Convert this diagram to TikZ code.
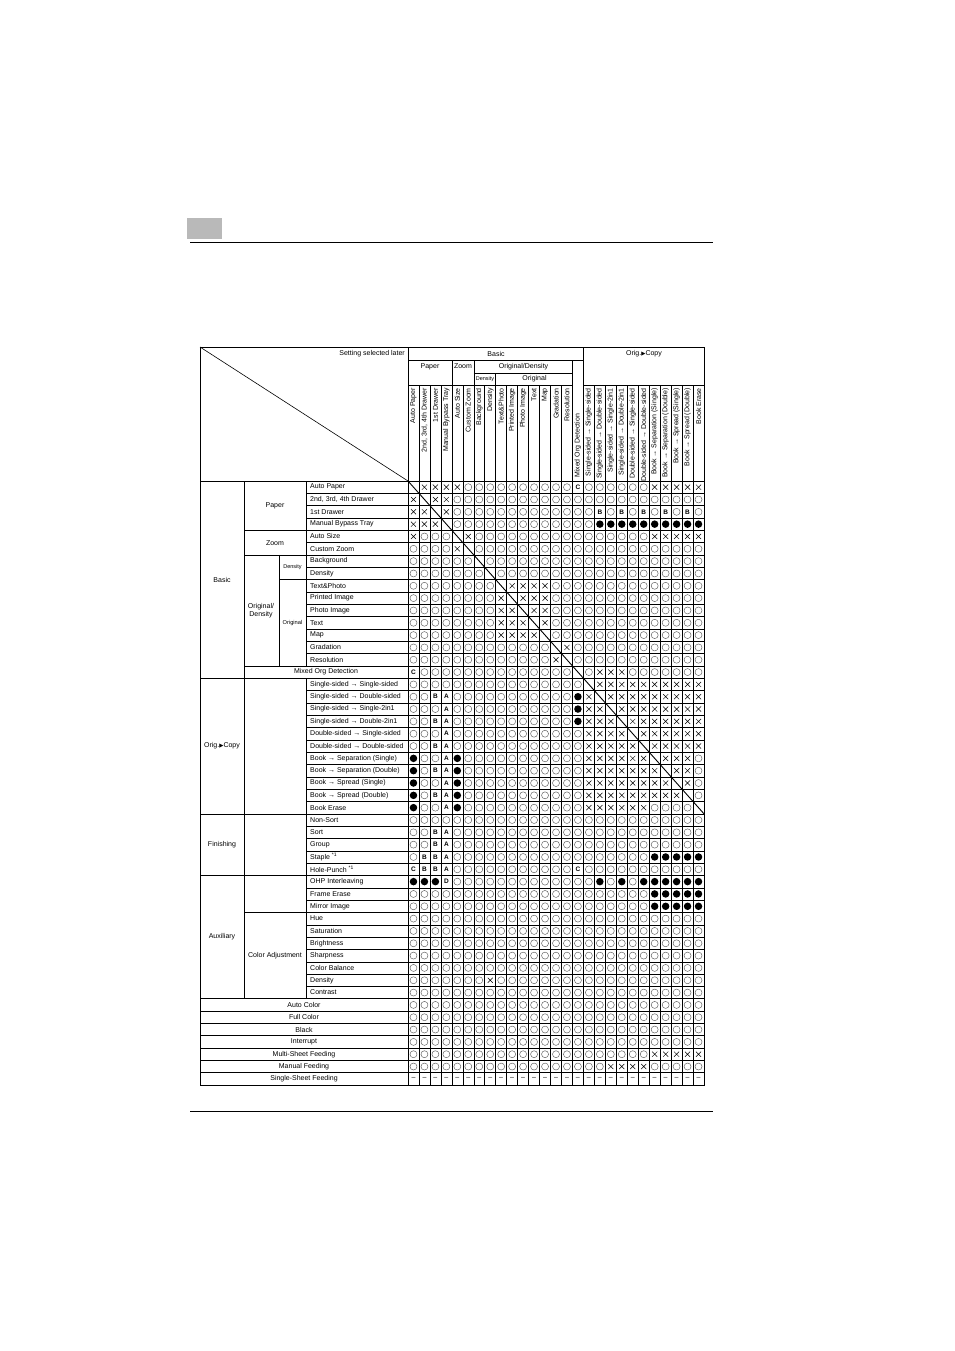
\documentclass[tikz,border=0pt]{standalone}
\usepackage{fontspec}
\setmainfont{Liberation Sans}
\newfontfamily\symfont{DejaVu Sans}
\usetikzlibrary{shapes.misc}

\definecolor{ringcolor}{HTML}{5a5a5a}
\definecolor{tabcolor}{HTML}{b9b9b9}
\tikzstyle{label} = [font=\fontsize{7}{8}\selectfont, inner sep=0pt]
\tikzstyle{item} = [label, anchor=west]
\tikzstyle{vhead} = [label, rotate=90, anchor=east]
\tikzstyle{ring} = [circle, draw=ringcolor, line width=0.45pt, minimum size=7pt, inner sep=0pt]
\tikzstyle{dot} = [circle, fill=black, minimum size=7.5pt, inner sep=0pt]
\tikzstyle{cross} = [cross out, draw, line width=0.5pt, minimum size=4.6pt, inner sep=0pt]
\tikzstyle{letter} = [font=\fontsize{6.5}{7}\selectfont\bfseries, inner sep=0pt]
\tikzstyle{grid} = [line width=0.5pt]
\tikzstyle{frame} = [line width=0.9pt]

\newcount\colcnt
\def\rowidx{0}
\def\marko{\node[ring] (m\rowidx-\the\colcnt) at (\cx,\cy) {};}
\def\markf{\node[dot] (m\rowidx-\the\colcnt) at (\cx,\cy) {};}
\def\markx{\node[cross] (m\rowidx-\the\colcnt) at (\cx,\cy) {};}
\def\markA{\node[letter] (m\rowidx-\the\colcnt) at (\cx,\cy) {A};}
\def\markB{\node[letter] (m\rowidx-\the\colcnt) at (\cx,\cy) {B};}
\def\markC{\node[letter] (m\rowidx-\the\colcnt) at (\cx,\cy) {C};}
\def\markD{\node[letter] (m\rowidx-\the\colcnt) at (\cx,\cy) {D};}
\def\markd{\node[label] (m\rowidx-\the\colcnt) at (\cx,\cy) {–};}
\def\markn{}
\def\placemark#1{\pgfmathsetmacro\cx{408+(\the\colcnt+0.5)*10.963}%
  \pgfmathsetmacro\cy{481+(\rowidx+0.5)*12.327}\csname mark#1\endcsname}
\def\parsecells#1{\ifx#1\relax\else\placemark{#1}\global\advance\colcnt by 1 \expandafter\parsecells\fi}
\newcommand\cellrow[2]{\def\rowidx{#1}\global\colcnt=0 \parsecells#2\relax}

\begin{document}
\begin{tikzpicture}[x=1pt, y=-1pt]
\useasboundingbox (0,0) rectangle (954,1351);

\node (tab) [fill=tabcolor, minimum width=35pt, minimum height=21pt, inner sep=0pt] at (204.5,228.5) {};
\draw[frame] (190,242) -- (713,242);
\draw[line width=0.6pt] (190,1111) -- (713,1111);

% grid
\foreach \i in {0,...,49} \draw[grid] (306,{481+\i*12.327}) -- (704,{481+\i*12.327});
\foreach \i in {0,16,27,32,42,43,44,45,46,47,48,49} \draw[grid] (200,{481+\i*12.327}) -- (306,{481+\i*12.327});
\foreach \i in {4,6,15,35} \draw[grid] (244,{481+\i*12.327}) -- (306,{481+\i*12.327});
\draw[grid] (279,{481+8*12.327}) -- (306,{481+8*12.327});
\draw[grid] (244,481) -- (244,{481+42*12.327});
\draw[grid] (279,{481+6*12.327}) -- (279,{481+15*12.327});
\draw[grid] (306,481) -- (306,{481+15*12.327});
\draw[grid] (306,{481+16*12.327}) -- (306,{481+42*12.327});
\foreach \j in {0,...,27} \draw[grid] ({408+\j*10.963},385) -- ({408+\j*10.963},1085);
\draw[grid] (408,347) -- (408,385);
\draw[grid] ({408+4*10.963},360) -- ({408+4*10.963},385);
\draw[grid] ({408+6*10.963},360) -- ({408+6*10.963},385);
\draw[grid] ({408+8*10.963},373) -- ({408+8*10.963},385);
\draw[grid] ({408+15*10.963},360) -- ({408+15*10.963},385);
\draw[grid] ({408+16*10.963},347) -- ({408+16*10.963},385);
\draw[grid] (408,360) -- ({408+16*10.963},360);
\draw[grid] ({408+6*10.963},373) -- ({408+15*10.963},373);
\draw[grid] (408,385) -- ({408+15*10.963},385);
\draw[grid] ({408+16*10.963},385) -- (704,385);
\draw[frame] (200,347) rectangle (704,1085);
\draw[line width=0.6pt] (200,347) -- (408,481);
\draw[line width=0.9pt] (408,481) -- (704,{481+27*12.327});

% headers
\node (later) [label, anchor=east] at (405,354) {Setting selected later};
\node (basic) [label] at (496,353.5) {Basic};
\node (origcopy) [label] at (644,353.5) {Orig.{\symfont\fontsize{5.5}{6}\selectfont ▶}Copy};
\node (paper) [label] at (430,366.5) {Paper};
\node (zoom) [label] at (463,366.5) {Zoom};
\node (origdens) [label] at (523.5,366.5) {Original/Density};
\node (density) [label, font=\fontsize{5.5}{6}\selectfont] at (485,379) {Density};
\node (original) [label] at (534.5,379) {Original};
\foreach \t [count=\j from 0] in {Auto Paper, {2nd, 3rd, 4th Drawer}, 1st Drawer, Manual Bypass Tray,
  Auto Size, Custom Zoom, Background, Density, Text\&Photo, Printed Image, Photo Image, Text, Map,
  Gradation, Resolution}
  \node (h\j) [vhead] at ({408+(\j+0.5)*10.963},388) {\t};
\node (h15) [label, rotate=90, anchor=west] at ({408+15.5*10.963},478) {Mixed Org Detection};
\foreach \t [count=\j from 16] in {Single-sided → Single-sided, Single-sided → Double-sided,
  Single-sided → Single-2in1, Single-sided → Double-2in1, Double-sided → Single-sided,
  Double-sided → Double-sided, Book → Separation (Single), Book → Separation (Double),
  Book → Spread (Single), Book → Spread (Double), Book Erase}
  \node (h\j) [vhead] at ({408+(\j+0.5)*10.963},388) {\t};

% row labels
\foreach \t [count=\i from 0] in {Auto Paper, {2nd, 3rd, 4th Drawer}, 1st Drawer, Manual Bypass Tray,
  Auto Size, Custom Zoom, Background, Density, Text\&Photo, Printed Image, Photo Image, Text, Map,
  Gradation, Resolution}
  \node (r\i) [item] at (310,{481+(\i+0.5)*12.327}) {\t};
\node (r15) [label] at (326,{481+15.5*12.327}) {Mixed Org Detection};
\foreach \t [count=\i from 16] in {Single-sided → Single-sided, Single-sided → Double-sided,
  Single-sided → Single-2in1, Single-sided → Double-2in1, Double-sided → Single-sided,
  Double-sided → Double-sided, Book → Separation (Single), Book → Separation (Double),
  Book → Spread (Single), Book → Spread (Double), Book Erase, Non-Sort, Sort, Group,
  Staple \textsuperscript{*1}, Hole-Punch \textsuperscript{*1}, OHP Interleaving, Frame Erase,
  Mirror Image, Hue, Saturation, Brightness, Sharpness, Color Balance, Density, Contrast}
  \node (r\i) [item] at (310,{481+(\i+0.5)*12.327}) {\t};
\foreach \t [count=\i from 42] in {Auto Color, Full Color, Black, Interrupt, Multi-Sheet Feeding,
  Manual Feeding, Single-Sheet Feeding}
  \node (r\i) [label] at (304,{481+(\i+0.5)*12.327}) {\t};

\node (gbasic) [label] at (222,{481+8*12.327}) {Basic};
\node (gpaper) [label] at (275,{481+2*12.327}) {Paper};
\node (gzoom) [label] at (275,{481+5*12.327}) {Zoom};
\node (gorigdens) [label, align=center] at (261,{481+10.5*12.327}) {Original/\\Density};
\node (gdensity) [label, font=\fontsize{5.5}{6}\selectfont] at (292.5,{481+7*12.327}) {Density};
\node (goriginal) [label, font=\fontsize{5.7}{6}\selectfont] at (292.5,{481+11.5*12.327}) {Original};
\node (gcopy) [label] at (222,{481+21.5*12.327}) {Orig.{\symfont\fontsize{5.5}{6}\selectfont ▶}Copy};
\node (gfinish) [label] at (222,{481+29.5*12.327}) {Finishing};
\node (gaux) [label] at (222,{481+37*12.327}) {Auxiliary};
\node (gcolor) [label] at (275,{481+38.5*12.327}) {Color Adjustment};

% cells
\cellrow{0}{n xxxx ooooo ooooo C ooooo o xxxxx}
\cellrow{1}{x n xx ooooo ooooo ooooo ooooo ooo}
\cellrow{2}{xx n x ooooo ooooo ooo BoBoBoBoBo}
\cellrow{3}{xxx n ooooo ooooo ooo fffff fffff}
\cellrow{4}{x ooo n x ooooo ooooo ooooo o xxxxx}
\cellrow{5}{oooo x n ooooo ooooo ooooo ooooo o}
\cellrow{6}{ooooo o n ooooo ooooo ooooo ooooo}
\cellrow{7}{ooooo oo n ooooo ooooo ooooo oooo}
\cellrow{8}{ooooo ooo n xxxx ooooo ooooo oooo}
\cellrow{9}{ooooo ooo x n xxx ooooo ooooo oooo}
\cellrow{10}{ooooo ooo xx n xx ooooo ooooo oooo}
\cellrow{11}{ooooo ooo xxx n x ooooo ooooo oooo}
\cellrow{12}{ooooo ooo xxxx n ooooo ooooo oooo}
\cellrow{13}{ooooo ooooo ooo n x ooooo ooooo oo}
\cellrow{14}{ooooo ooooo ooo x n ooooo ooooo oo}
\cellrow{15}{C ooooo ooooo oooo n o xxx ooooo oo}
\cellrow{16}{ooooo ooooo ooooo o n xxxxx xxxxx}
\cellrow{17}{ooBA ooooo ooooo o f x n xxxxx xxxx}
\cellrow{18}{oooA ooooo ooooo o f xx n xxxxx xxx}
\cellrow{19}{ooBA ooooo ooooo o f xxx n xxxxx xx}
\cellrow{20}{oooA ooooo ooooo o o xxxx n xxxxx x}
\cellrow{21}{ooBA ooooo ooooo o o xxxxx n xxxxx}
\cellrow{22}{fooAf ooooo ooooo o xxxxx x n xxx o}
\cellrow{23}{foBAf ooooo ooooo o xxxxx xx n xx o}
\cellrow{24}{fooAf ooooo ooooo o xxxxx xxx n x o}
\cellrow{25}{foBAf ooooo ooooo o xxxxx xxxx n o}
\cellrow{26}{fooAf ooooo ooooo o xxxxx x oooo n}
\cellrow{27}{ooooo ooooo ooooo ooooo ooooo oo}
\cellrow{28}{ooBA ooooo ooooo ooooo ooooo ooo}
\cellrow{29}{ooBA ooooo ooooo ooooo ooooo ooo}
\cellrow{30}{oBBA ooooo ooooo ooooo ooo fffff}
\cellrow{31}{CBBA ooooo ooooo o C ooooo ooooo o}
\cellrow{32}{fffD ooooo ooooo ooo fofof fffff}
\cellrow{33}{ooooo ooooo ooooo ooooo oo fffff}
\cellrow{34}{ooooo ooooo ooooo ooooo oo fffff}
\foreach \i in {35,...,39} {\cellrow{\i}{ooooo ooooo ooooo ooooo ooooo oo}}
\cellrow{40}{ooooo oo x ooooo ooooo ooooo oooo}
\foreach \i in {41,...,45} {\cellrow{\i}{ooooo ooooo ooooo ooooo ooooo oo}}
\cellrow{46}{ooooo ooooo ooooo ooooo oo xxxxx}
\cellrow{47}{ooooo ooooo ooooo ooo xxxx ooooo}
\cellrow{48}{ddddd ddddd ddddd ddddd ddddd dd}

\end{tikzpicture}
\end{document}
